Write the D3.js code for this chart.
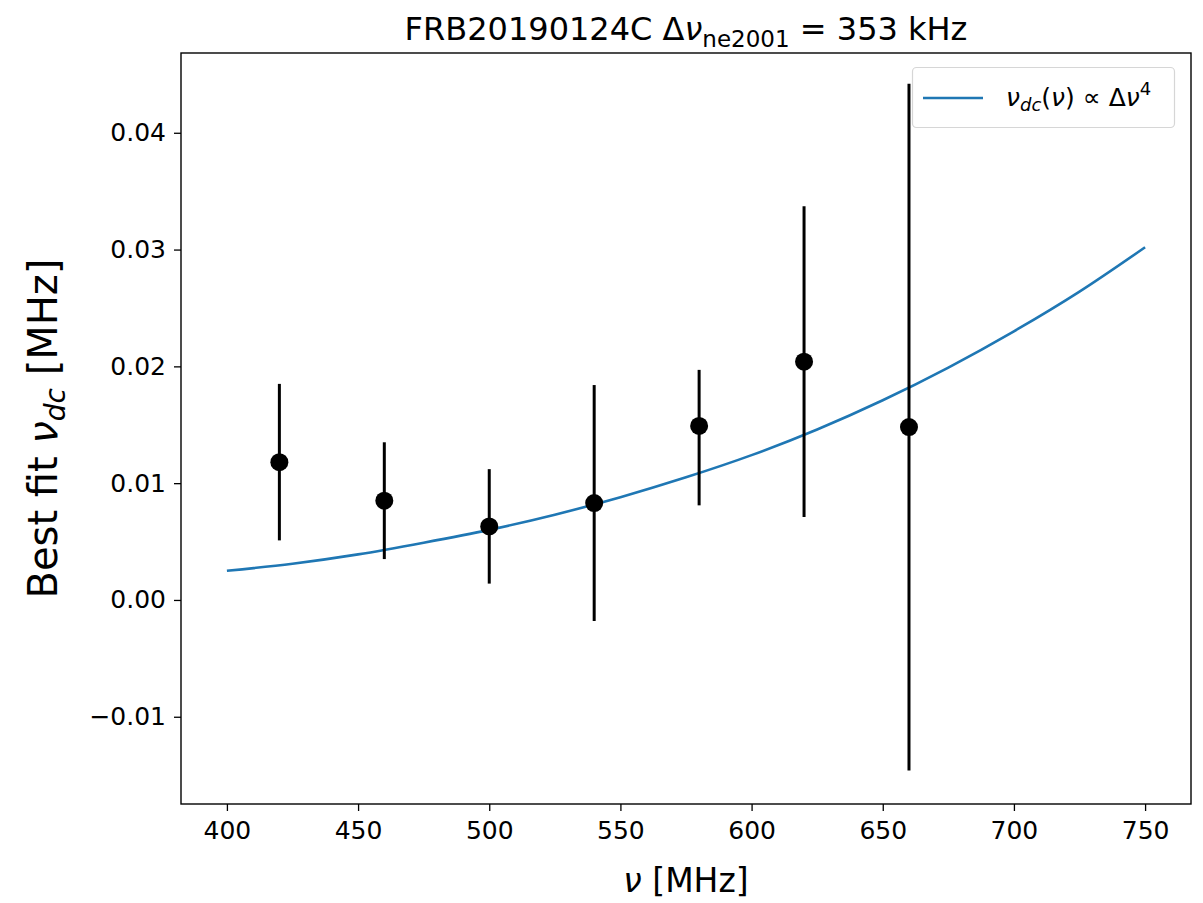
<!DOCTYPE html>
<html>
<head>
<meta charset="utf-8">
<script src="https://cdn.jsdelivr.net/npm/d3@7"></script>
<style>
  body { margin: 0; background: #fff; }
  svg text { font-family: "DejaVu Sans", sans-serif; fill: #000; }
  .math { font-style: italic; }
</style>
</head>
<body>
<main></main>
<script>
// measured points (frequency in MHz, best fit nu_dc in MHz, lower / upper errors)
const freqs = [420, 460, 500, 540, 580, 620, 660]
const nuDc = [0.0118, 0.0085, 0.0063, 0.0083, 0.0149, 0.0204, 0.0148]
const errLow = [0.0067, 0.0050, 0.0049, 0.0101, 0.0068, 0.0133, 0.0294]
const errHigh = [0.0067, 0.0050, 0.0049, 0.0101, 0.0048, 0.0133, 0.0294]

// fitted curve
const fitFreqs = [400, 425, 450, 475, 500, 525, 550, 575, 600, 625, 650, 675, 700, 725, 750]
const fitVals = [0.0025, 0.0031, 0.0039, 0.0049, 0.0060, 0.0073, 0.0088, 0.0105, 0.0124, 0.0146, 0.0171, 0.0199, 0.0230, 0.0264, 0.0302]

const xTicks = [400, 450, 500, 550, 600, 650, 700, 750]
const yTicks = [-0.01, 0.00, 0.01, 0.02, 0.03, 0.04]

const size = { width: 1203, height: 903 }
const plot = { left: 181, right: 1191, top: 53, bottom: 804 }

const svg = d3.select('main')
              .append('svg')
              .attr('width', size.width)
              .attr('height', size.height)

const x = d3.scaleLinear()
            .domain([382.5, 767.5])
            .range([plot.left, plot.right])

const y = d3.scaleLinear()
            .domain([-0.01747, 0.04683])
            .range([plot.bottom, plot.top])

// axes
const xAxis = d3.axisBottom(x).tickValues(xTicks).tickSize(7).tickPadding(10).tickFormat(d3.format('d'))
const yAxis = d3.axisLeft(y).tickValues(yTicks).tickSize(7).tickPadding(8)
                .tickFormat(d => (d < 0 ? '\u2212' : '') + Math.abs(d).toFixed(2))

const gx = svg.append('g')
              .attr('transform', `translate(0,${plot.bottom})`)
              .call(xAxis)
const gy = svg.append('g')
              .attr('transform', `translate(${plot.left},0)`)
              .call(yAxis)

for (const g of [gx, gy]) {
    g.select('.domain').remove()
    g.selectAll('.tick line').attr('stroke', '#000').attr('stroke-width', 1.3)
    g.selectAll('.tick text').attr('font-size', 25).attr('fill', '#262626')
        .style('font-family', '"DejaVu Sans", sans-serif')
}

// fit line
const line = d3.line()
               .x((d, i) => x(fitFreqs[i]))
               .y(d => y(d))
               .curve(d3.curveMonotoneX)

svg.append('path')
    .datum(fitVals)
    .attr('d', line)
    .attr('fill', 'none')
    .attr('stroke', '#1f77b4')
    .attr('stroke-width', 2.6)

// error bars
svg.append('g')
    .selectAll('line')
    .data(freqs)
    .enter()
    .append('line')
    .attr('x1', d => x(d))
    .attr('x2', d => x(d))
    .attr('y1', (d, i) => y(nuDc[i] - errLow[i]))
    .attr('y2', (d, i) => y(nuDc[i] + errHigh[i]))
    .attr('stroke', '#000')
    .attr('stroke-width', 3)

svg.append('g')
    .selectAll('circle')
    .data(freqs)
    .enter()
    .append('circle')
    .attr('cx', d => x(d))
    .attr('cy', (d, i) => y(nuDc[i]))
    .attr('r', 9)
    .attr('fill', '#000')

// frame
svg.append('rect')
    .attr('x', plot.left)
    .attr('y', plot.top)
    .attr('width', plot.right - plot.left)
    .attr('height', plot.bottom - plot.top)
    .attr('fill', 'none')
    .attr('stroke', '#000')
    .attr('stroke-width', 1.4)

// legend
const legend = svg.append('g')
legend.append('rect')
    .attr('x', 912.5).attr('y', 67.5)
    .attr('width', 262).attr('height', 60)
    .attr('rx', 4)
    .attr('fill', '#fff').attr('fill-opacity', 0.8)
    .attr('stroke', '#d6d6d6').attr('stroke-width', 1.2)
legend.append('line')
    .attr('x1', 923).attr('x2', 983)
    .attr('y1', 98).attr('y2', 98)
    .attr('stroke', '#1f77b4').attr('stroke-width', 2.6)
const lt = legend.append('text').attr('x', 1006).attr('y', 106).attr('font-size', 25)
lt.append('tspan').attr('class', 'math').text('\u03bd')
lt.append('tspan').attr('class', 'math').attr('font-size', 18).attr('dy', 5).text('dc')
lt.append('tspan').attr('dy', -5).text('(')
lt.append('tspan').attr('class', 'math').text('\u03bd')
lt.append('tspan').text(')')
lt.append('tspan').attr('dx', 8).text('\u221d')
lt.append('tspan').attr('dx', 8).text('\u0394')
lt.append('tspan').attr('class', 'math').text('\u03bd')
lt.append('tspan').attr('font-size', 18).attr('dy', -11).text('4')

// title
const title = svg.append('text')
    .attr('x', (plot.left + plot.right) / 2)
    .attr('y', 40)
    .attr('text-anchor', 'middle')
    .attr('font-size', 32)
title.append('tspan').text('FRB20190124C \u0394')
title.append('tspan').attr('class', 'math').text('\u03bd')
title.append('tspan').attr('font-size', 23).attr('dy', 7).text('ne2001')
title.append('tspan').attr('dy', -7).text(' = 353 kHz')

// x label
const xl = svg.append('text')
    .attr('x', (plot.left + plot.right) / 2)
    .attr('y', 892)
    .attr('text-anchor', 'middle')
    .attr('font-size', 33)
xl.append('tspan').attr('class', 'math').text('\u03bd')
xl.append('tspan').text(' [MHz]')

// y label
const yl = svg.append('text')
    .attr('transform', `translate(57,${(plot.top + plot.bottom) / 2}) rotate(-90)`)
    .attr('text-anchor', 'middle')
    .attr('font-size', 40)
yl.append('tspan').text('Best fit ')
yl.append('tspan').attr('class', 'math').text('\u03bd')
yl.append('tspan').attr('class', 'math').attr('font-size', 28).attr('dy', 8).text('dc')
yl.append('tspan').attr('dy', -8).text(' [MHz]')
</script>
</body>
</html>
